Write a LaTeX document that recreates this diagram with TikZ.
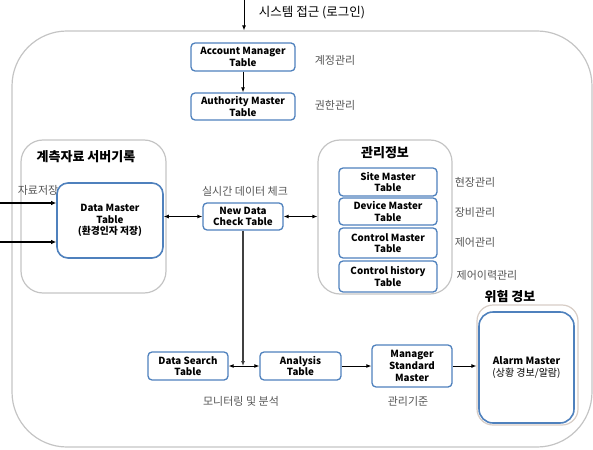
\documentclass[tikz,border=0pt]{standalone}
\usepackage{fontspec}
\setmainfont{Noto Sans CJK KR}
\usetikzlibrary{arrows.meta}
\definecolor{tblue}{RGB}{79,129,189}
\definecolor{grpgray}{RGB}{196,196,196}
\definecolor{lblgray}{RGB}{85,85,85}
\definecolor{alarmgrp}{RGB}{215,205,198}
\tikzset{
  tbl/.style={draw=tblue, line width=1.3pt, rounded corners=4pt, fill=white, align=center, inner sep=0pt,
    font=\bfseries\fontsize{9.8}{11.5}\selectfont},
  grp/.style={draw=grpgray, line width=1.2pt, inner sep=0pt},
  lbl/.style={text=lblgray, font=\fontsize{11}{13}\selectfont, inner sep=0pt},
  ttl/.style={font=\bfseries\fontsize{13}{15}\selectfont, inner sep=0pt},
  arr/.style={-{Latex[length=5pt,width=4pt]}, line width=0.9pt},
  darr/.style={{Latex[length=5pt,width=4pt]}-{Latex[length=5pt,width=4pt]}, line width=0.9pt},
}
\begin{document}
\begin{tikzpicture}[x=1pt,y=-1pt]
\useasboundingbox (0,0) rectangle (593,449);
% group boxes
\node[grp, rounded corners=55pt, minimum width=580pt, minimum height=416pt] (outer) at (302,239) {};
\node[grp, rounded corners=22pt, minimum width=145pt, minimum height=153pt] (lg) at (93.5,216.5) {};
\node[grp, rounded corners=22pt, minimum width=134pt, minimum height=154pt] (mg) at (385,217) {};
\node[draw=alarmgrp, line width=1.2pt, inner sep=0pt, rounded corners=16pt, minimum width=101pt, minimum height=120pt] (ag) at (527.5,365) {};
% tables
\node[tbl, minimum width=104pt, minimum height=28pt] (acc) at (243,57) {Account Manager\\Table};
\node[tbl, minimum width=104pt, minimum height=27pt] (auth) at (243,106.5) {Authority Master\\Table};
\node[tbl, line width=1.6pt, rounded corners=11pt, minimum width=106pt, minimum height=75pt] (dm) at (110,220.5) {Data Master\\Table\\(환경인자 저장)};
\node[tbl, minimum width=80pt, minimum height=27pt] (ndc) at (243,216.5) {New Data\\Check Table};
\node[tbl, minimum width=98pt, minimum height=28pt] (site) at (388,182) {Site Master\\Table};
\node[tbl, minimum width=98pt, minimum height=27pt] (dev) at (388,211.5) {Device Master\\Table};
\node[tbl, minimum width=98pt, minimum height=30pt] (cm) at (388,243) {Control Master\\Table};
\node[tbl, minimum width=98pt, minimum height=31pt] (ch) at (388,276.5) {Control history\\Table};
\node[tbl, minimum width=80pt, minimum height=28pt] (ds) at (188,366) {Data Search\\Table};
\node[tbl, minimum width=81pt, minimum height=28pt] (an) at (300.5,366) {Analysis\\Table};
\node[tbl, minimum width=80pt, minimum height=42pt, font=\bfseries\fontsize{9.8}{12}\selectfont] (msm) at (412,366) {Manager\\Standard\\Master};
\node[tbl, line width=1.6pt, rounded corners=14pt, minimum width=95pt, minimum height=111pt, font=\fontsize{10}{12}\selectfont] (alarm) at (526.5,367.5) {\textbf{Alarm Master}\\(상황 경보/알람)};
% labels
\node[font=\fontsize{12.5}{14}\selectfont, inner sep=0pt] (tl) at (312,13) {시스템 접근 (로그인)};
\node[lbl] (l1) at (335,60) {계정관리};
\node[lbl] (l2) at (335,105) {권한관리};
\node[ttl] (t1) at (86,157) {계측자료 서버기록};
\node[lbl] (l3) at (38,190) {자료저장};
\node[lbl] (l4) at (245,191) {실시간 데이터 체크};
\node[ttl] (t2) at (385,153) {관리정보};
\node[lbl] (l5) at (475,182) {현장관리};
\node[lbl] (l6) at (475,212) {장비관리};
\node[lbl] (l7) at (475,242) {제어관리};
\node[lbl] (l8) at (487,275) {제어이력관리};
\node[ttl] (t3) at (510,297) {위험 경보};
\node[lbl] (l9) at (241,401) {모니터링 및 분석};
\node[lbl] (l10) at (408,401) {관리기준};
% connectors
\coordinate (top) at (244,0);
\draw[arr] (top) -- (top |- outer.north);
\draw[arr] (acc) -- (auth);
\coordinate (in1) at (0,203);
\coordinate (in2) at (0,242);
\draw[-{Latex[length=5pt,width=4.5pt]}, line width=1.8pt] (in1) -- (in1 -| dm.west);
\draw[-{Latex[length=5pt,width=4.5pt]}, line width=1.8pt] (in2) -- (in2 -| dm.west);
\draw[darr] (dm.east |- ndc.west) -- (ndc.west);
\draw[darr] (ndc.east) -- (mg.west |- ndc.east);
\draw[-{Latex[length=5pt,width=4pt]}, line width=1.6pt, draw=black!75] (ndc.south) -- (ndc.south |- ds.east);
\draw[darr] (ds.east) -- (an.west);
\draw[arr] (an.east) -- (msm.west);
\draw[arr] (msm.east) -- (ag.west |- msm.east);
\end{tikzpicture}
\end{document}
